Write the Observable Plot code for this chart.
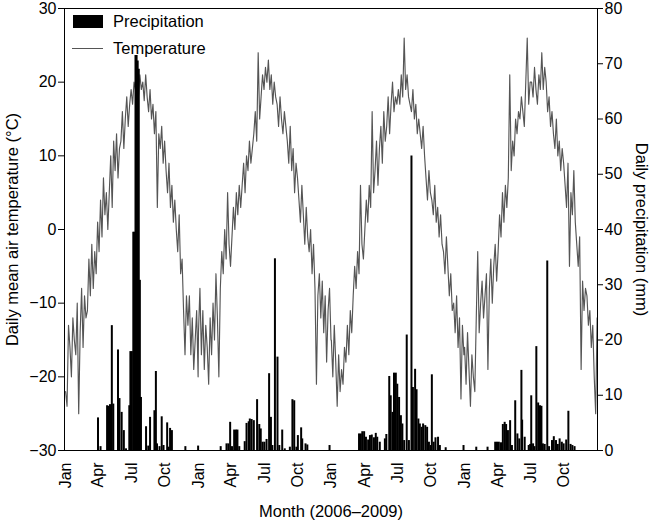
<!DOCTYPE html>
<html>
<head>
<meta charset="utf-8">
<script src="https://cdn.jsdelivr.net/npm/d3@7"></script>
<script src="https://cdn.jsdelivr.net/npm/@observablehq/plot@0.6"></script>
<style>
  body { margin: 0; background: #fff; font-family: "Liberation Sans", Arial, sans-serif; }
  #chart { position: relative; width: 653px; height: 520px; }
  #chart svg { position: absolute; left: 0; top: 0; }
  .lg { position: absolute; font-size: 16.5px; color: #000; line-height: 1; white-space: nowrap; }
</style>
</head>
<body>
<div id="chart"></div>
<script>
// ---------- data ----------
const years = [2006, 2007, 2008, 2009];
const sampleStepDays = 4; // temperature read every 4 days from 1 Jan of each year

const temp2006 = [-22,-24,-13,-16,-20,-12,-15,-17, -10,-25,-14,-8,-16,-9,-12, -11,-4,-9,-2,-8,-3,-6,1, -3,4,-1,7,2,5,0,
  5,10,3,12,8,13,7,11, 12,16,11,15,18,14,17,19, 17,20,19,21.5,18,21,19, 20,17.5,21,18,16,19,15,17,
  13,16,3,13,11,14,9,12, 8,5,9,3,6,1,4, 0,-3,2,-6,-4,-11,-17,-9, -13,-9,-17,-12,-19,-15,-11,-20];
const temp2007 = [-14,-8,-17,-11,-19,-13,-16,-21, -12,-17,-10,-15,-6,-12,-20, -8,-3,-6,0,-4,5,-2,-5, -1,3,0,5,2,6,3,
  6,9,5,10,8,12,9,11, 13,16,12,24,15,18,21,19, 22,20,23,19,21,17,20, 18,17,14,18,15,13,16,14,
  12,9,14,8,11,5,9,7, 4,1,6,2,-2,3,-1, -3,0,-6,-2,-8,-21,-9,-6, -12,-7,-14,-9,-18,-11,-8,-15];
const temp2008 = [-15,-20,-13,-18,-24,-17,-22,-19, -21,-16,-18,-13,-17,-11,-14, -9,-5,-8,-3,-6,6,-2,-4, 0,4,1,6,3,16,5,
  8,12,6,11,14,9,16,12, 14,18,13,17,20,16,18,17, 19,17,21,18,26,19,21, 18,17,16,19,15,17,13,15,
  13,11,14,10,7,4,8,5, 4,2,6,1,3,-1,2, -2,-3,-6,-1,-5,-9,-6,-11, -10,-14,-9,-16,-12,-23,-13,-17];
const temp2009 = [-16,-21,-14,-19,-24,-17,-20,-22, -12,-3,-14,-10,-7,-12,-9, -6,-19,-8,-4,-10,-5,-2,-7, -3,2,-1,5,1,6,3,
  7,21,8,12,10,15,13,16, 15,18,16,14,20,26,17,20, 20,18,22,19,17,21,19, 24,19,22,20,16,18,14,16,
  13,11,15,10,12,8,11,9, 6,3,9,-5,5,2,8, 1,-2,-5,-1,-19,-7,-11,-8, -9,-13,-11,-16,-13,-20,-25,-12];

const precipDays2006 = ["03-31","04-07","04-25","04-29","05-03","05-08","05-12","05-25","05-29","06-04","06-10","06-16",
  "06-25","06-28","07-02","07-06","07-09","07-12","07-15","07-18","07-21","07-24","07-27","08-10","08-16","08-21",
  "09-02","09-06","09-09","09-16","09-22","09-27","10-07","10-11","10-15","10-20","11-26","12-31"];
const precipMm2006 = [5.9,0.7,8.1,8.0,8.3,22.6,8.4,18.2,9.4,6.9,3.6,0.3,
  8.1,17.9,17.9,39.5,39.5,71.5,71.5,70.5,69,30.8,9.6,4.3,0.8,6.0,
  7.2,14.3,1.2,0.7,6.1,0.9,5.0,0.6,4.0,3.6,0.7,0.8];
const precipDays2007 = ["03-03","03-19","03-24","03-29","04-03","04-09","04-14","04-18","04-23","05-08","05-13","05-19",
  "05-22","05-27","06-02","06-11","06-17","06-21","06-26","07-01","07-07","07-14","07-19","07-23","07-30","08-06",
  "08-11","08-19","08-26","09-09","09-16","09-21","09-27","10-01","10-10","10-13","10-22","10-27","12-27"];
const precipMm2007 = [0.7,1.2,1.2,5.1,0.7,3.7,3.7,3.7,0.7,1.6,4.9,5.2,
  5.7,5.6,5.4,9.2,4.7,3.9,1.5,1.5,2.0,13.9,6.0,0.9,34.7,16.9,
  0.9,3.7,0.3,0.6,9.2,9.0,0.6,2.7,4.1,2.1,1.2,1.0,0.9];
const precipDays2008 = ["03-17","03-22","03-26","03-31","04-05","04-11","04-16","04-21","04-27","05-02","05-06","05-13",
  "05-27","05-31","06-08","06-12","06-17","06-21","06-26","06-30","07-05","07-10","07-14","07-19","07-26","08-01",
  "08-08","08-12","08-18","08-22","08-27","08-31","09-05","09-09","09-15","09-20","09-25","09-30","10-03","10-08",
  "10-13","10-20","10-25","11-10","12-29"];
const precipMm2008 = [3.0,3.0,3.4,3.4,2.4,1.9,2.7,2.8,2.3,3.1,2.4,1.5,
  2.1,2.9,13.4,9.9,6.9,14.0,14.0,12.0,9.6,6.3,4.8,1.8,20.9,1.8,
  53.3,11.4,14.7,11.0,5.7,4.8,4.2,4.8,4.5,4.2,1.5,0.9,13.7,1.5,
  2.3,2.4,0.9,0.5,0.9];
const precipDays2009 = ["02-02","03-05","03-26","03-31","04-05","04-11","04-16","04-21","04-25","04-30","05-06","05-11",
  "05-20","05-26","05-31","06-06","06-08","06-15","06-26","06-30","07-03","07-08","07-12","07-17","07-22","07-27",
  "07-31","08-04","08-09","08-16","08-21","08-29","09-03","09-09","09-14","09-19","09-25","09-30","10-07","10-13",
  "10-19","10-24","10-30"];
const precipMm2009 = [0.6,0.6,1.5,1.5,1.5,1.4,4.7,5.1,4.7,3.6,5.4,0.9,
  9.0,3.0,2.1,14.5,5.5,2.4,0.9,1.1,9.9,1.2,0.7,18.8,8.6,8.1,
  8.0,1.2,1.1,34.3,0.7,1.8,2.5,1.8,1.1,2.1,1.5,1.2,1.9,7.1,
  1.1,0.9,0.7];

const tempTicks = [-30, -20, -10, 0, 10, 20, 30];
const precipTicks = [0, 10, 20, 30, 40, 50, 60, 70, 80];
const monthLabels = ["Jan", "Apr", "Jul", "Oct"];
const monthIdx = [0, 3, 6, 9];
const xStart = "2005-12-29", xEnd = "2010-01-01";
const labels = {
  temp: "Daily mean air temperature (°C)",
  precip: "Daily precipitation (mm)",
  x: "Month (2006–2009)",
  legPrecip: "Precipitation",
  legTemp: "Temperature"
};

// ---------- build tables ----------
const tempSeries = [temp2006, temp2007, temp2008, temp2009];
const tempData = years.flatMap((yr, k) =>
  tempSeries[k].map((t, i) => ({date: new Date(Date.UTC(yr, 0, 1 + i * sampleStepDays)), t})));
const pDays = [precipDays2006, precipDays2007, precipDays2008, precipDays2009];
const pMm = [precipMm2006, precipMm2007, precipMm2008, precipMm2009];
const precipData = years.flatMap((yr, k) =>
  pDays[k].map((md, i) => ({date: new Date(`${yr}-${md}T00:00:00Z`), p: pMm[k][i]})));
const monthTicks = years.flatMap(yr => monthIdx.map(m => new Date(Date.UTC(yr, m, 1))));

const W = 653, H = 520;
const M = {marginTop: 8, marginRight: 56, marginBottom: 70, marginLeft: 64};
const font = {fontFamily: "'Liberation Sans', Arial, sans-serif", fontSize: "16px", background: "transparent", color: "#000"};
const xDom = [new Date(xStart + "T00:00:00Z"), new Date(xEnd + "T00:00:00Z")];

const tempPlot = Plot.plot({
  width: W, height: H, ...M, style: font,
  x: {type: "utc", domain: xDom},
  y: {domain: [-30, 30]},
  marks: [
    Plot.line(tempData, {x: "date", y: "t", stroke: "#555", strokeWidth: 1.15}),
    Plot.axisY({ticks: tempTicks, tickSize: 6, tickPadding: 2, label: null}),
    Plot.axisX({ticks: monthTicks, tickFormat: d => monthLabels[monthIdx.indexOf(d.getUTCMonth())],
      tickRotate: -90, tickSize: 0, tickPadding: 12, label: null}),
    Plot.frame({stroke: "#000"}),
    Plot.text([labels.temp], {frameAnchor: "left", textAnchor: "middle", lineAnchor: "middle",
      rotate: -90, dx: -52, fontSize: 16.5}),
    Plot.text([labels.x], {frameAnchor: "bottom", textAnchor: "middle", lineAnchor: "middle",
      dy: 61, fontSize: 16.5})
  ]
});

const precipPlot = Plot.plot({
  width: W, height: H, ...M, style: font,
  x: {type: "utc", domain: xDom, axis: null},
  y: {domain: [0, 80]},
  marks: [
    Plot.ruleX(precipData, {x: "date", y1: 0, y2: "p", stroke: "#000", strokeWidth: 2}),
    Plot.axisY({anchor: "right", ticks: precipTicks, tickSize: 5, tickPadding: 2, label: null}),
    Plot.text([labels.precip], {frameAnchor: "right", textAnchor: "middle", lineAnchor: "middle",
      rotate: 90, dx: 44, fontSize: 16.5})
  ]
});

const chart = document.getElementById("chart");
chart.appendChild(tempPlot);
chart.appendChild(precipPlot);

// legend (inside the plot frame, top-left)
const legend = [
  {html: `<div style="width:30px;height:13px;background:#000"></div>`, left: 73, top: 15},
  {html: labels.legPrecip, left: 113, top: 13, text: true},
  {html: `<div style="width:31px;height:0;border-top:1px solid #555"></div>`, left: 72, top: 48},
  {html: labels.legTemp, left: 113, top: 40, text: true}
];
for (const l of legend) {
  const d = document.createElement("div");
  d.className = "lg";
  d.style.left = l.left + "px";
  d.style.top = l.top + "px";
  if (l.text) d.textContent = l.html; else d.innerHTML = l.html;
  chart.appendChild(d);
}
</script>
</body>
</html>
